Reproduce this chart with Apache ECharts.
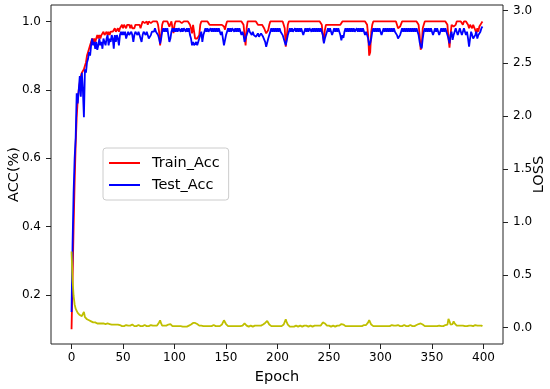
<!DOCTYPE html>
<html>
<head>
<meta charset="utf-8">
<script src="https://cdn.jsdelivr.net/npm/echarts@6/dist/echarts.min.js"></script>
<style>html,body{margin:0;padding:0;background:#fff}#c{width:550px;height:389px}</style>
</head>
<body>
<div id="c"></div>
<script>
var trainAcc = [
0.10,0.25,0.40,0.53,0.64,0.72,0.77,0.80,0.82,0.84,0.85,0.85,0.86,0.87,0.88,0.90,0.91,0.92,0.93,0.94,
0.95,0.94,0.95,0.94,0.95,0.96,0.95,0.96,0.95,0.96,0.96,0.97,0.96,0.96,0.97,0.96,0.97,0.96,0.97,0.97,
0.97,0.97,0.98,0.97,0.97,0.98,0.97,0.98,0.98,0.99,0.98,0.99,0.99,0.98,0.99,0.99,0.99,0.98,0.99,0.98,
0.975,0.98,0.99,0.99,0.99,0.99,0.99,0.98,0.99,1.0,1.0,0.995,1.0,1.0,0.99,1.0,1.0,0.995,1.0,1.0,
1.0,1.0,0.995,1.0,0.99,0.97,0.93,0.96,0.99,1.0,1.0,1.0,1.0,1.0,0.995,0.985,0.99,1.0,0.98,0.966,
0.99,1.0,1.0,1.0,1.0,1.0,1.0,0.995,1.0,1.0,1.0,1.0,1.0,1.0,1.0,0.99,0.98,0.965,0.99,0.97,
0.95,0.946,0.95,0.95,0.96,0.99,1.0,1.0,1.0,1.0,1.0,1.0,1.0,1.0,0.99,0.99,0.99,0.99,0.99,0.99,
0.99,0.99,0.99,0.99,0.99,0.99,0.99,0.99,0.985,0.976,0.99,1.0,1.0,1.0,1.0,1.0,1.0,1.0,1.0,1.0,
1.0,1.0,1.0,1.0,1.0,1.0,1.0,0.99,0.96,0.93,0.98,1.0,1.0,1.0,1.0,1.0,1.0,1.0,1.0,1.0,
1.0,0.99,0.99,0.99,0.99,0.99,0.99,0.98,0.975,0.965,0.96,0.975,0.99,1.0,1.0,1.0,1.0,1.0,1.0,1.0,
1.0,1.0,1.0,1.0,1.0,1.0,0.99,0.98,0.926,0.957,0.99,1.0,1.0,1.0,1.0,1.0,1.0,1.0,1.0,1.0,
1.0,1.0,1.0,1.0,1.0,1.0,1.0,1.0,1.0,1.0,1.0,1.0,1.0,1.0,1.0,1.0,1.0,1.0,1.0,1.0,
1.0,1.0,1.0,0.99,0.96,0.94,0.975,0.99,0.99,0.99,0.99,0.99,0.99,0.99,0.99,0.99,0.99,0.99,0.99,0.99,
0.99,0.99,0.995,1.0,1.0,1.0,1.0,1.0,1.0,1.0,1.0,1.0,1.0,1.0,1.0,1.0,1.0,1.0,1.0,1.0,
1.0,1.0,1.0,1.0,1.0,1.0,1.0,0.99,0.96,0.90,0.91,0.97,0.99,1.0,1.0,1.0,1.0,1.0,1.0,1.0,
1.0,1.0,1.0,1.0,1.0,1.0,1.0,1.0,1.0,1.0,1.0,1.0,1.0,1.0,1.0,1.0,0.99,0.98,0.976,0.985,
0.99,1.0,1.0,1.0,1.0,1.0,1.0,1.0,1.0,1.0,1.0,1.0,1.0,1.0,1.0,1.0,1.0,0.99,0.96,0.917,
0.93,0.98,0.99,1.0,1.0,1.0,1.0,1.0,1.0,1.0,1.0,1.0,1.0,1.0,1.0,1.0,1.0,1.0,1.0,1.0,
1.0,1.0,1.0,1.0,1.0,0.99,0.95,0.923,0.96,0.99,0.99,0.985,0.99,0.99,1.0,1.0,1.0,0.995,1.0,1.0,
0.99,1.0,0.995,1.0,1.0,0.99,0.98,0.99,0.995,0.98,0.99,0.985,0.975,0.965,0.98,0.97,0.985,0.99,0.995,1.0
];
var testAcc = [
0.15,0.35,0.50,0.60,0.66,0.79,0.76,0.80,0.84,0.78,0.85,0.80,0.72,0.86,0.85,0.88,0.89,0.91,0.90,0.93,
0.95,0.93,0.94,0.92,0.94,0.917,0.93,0.95,0.93,0.94,0.92,0.95,0.94,0.93,0.95,0.96,0.93,0.95,0.94,0.96,
0.95,0.92,0.96,0.94,0.96,0.95,0.93,0.96,0.97,0.96,0.97,0.96,0.97,0.95,0.96,0.97,0.96,0.955,0.97,0.96,
0.94,0.96,0.97,0.97,0.96,0.97,0.96,0.95,0.94,0.96,0.97,0.97,0.96,0.97,0.96,0.95,0.95,0.96,0.97,0.97,
0.97,0.98,0.97,0.97,0.96,0.95,0.935,0.95,0.97,0.98,0.97,0.98,0.97,0.98,0.96,0.94,0.95,0.97,0.98,0.97,
0.98,0.97,0.98,0.97,0.98,0.98,0.97,0.98,0.97,0.98,0.98,0.97,0.98,0.97,0.98,0.96,0.95,0.93,0.94,0.93,
0.93,0.94,0.93,0.94,0.95,0.96,0.97,0.94,0.96,0.97,0.98,0.97,0.98,0.97,0.97,0.98,0.97,0.98,0.97,0.98,
0.97,0.98,0.97,0.98,0.97,0.96,0.97,0.95,0.93,0.935,0.96,0.97,0.98,0.97,0.98,0.97,0.98,0.98,0.97,0.98,
0.97,0.98,0.97,0.98,0.97,0.96,0.97,0.96,0.94,0.945,0.96,0.97,0.98,0.97,0.97,0.96,0.97,0.96,0.965,0.955,
0.96,0.965,0.955,0.96,0.965,0.96,0.955,0.95,0.94,0.926,0.93,0.95,0.96,0.97,0.98,0.97,0.98,0.97,0.98,0.97,
0.98,0.97,0.98,0.97,0.97,0.96,0.95,0.94,0.93,0.935,0.96,0.97,0.98,0.97,0.98,0.97,0.97,0.98,0.97,0.98,
0.97,0.98,0.97,0.98,0.97,0.96,0.97,0.98,0.97,0.98,0.97,0.98,0.98,0.97,0.98,0.97,0.98,0.97,0.98,0.97,
0.98,0.97,0.98,0.97,0.96,0.936,0.95,0.96,0.97,0.98,0.97,0.98,0.97,0.96,0.97,0.98,0.97,0.98,0.97,0.98,
0.97,0.96,0.945,0.96,0.952,0.97,0.98,0.97,0.98,0.97,0.98,0.97,0.98,0.97,0.98,0.97,0.97,0.98,0.97,0.98,
0.97,0.98,0.97,0.98,0.97,0.96,0.97,0.96,0.95,0.93,0.937,0.95,0.97,0.98,0.97,0.98,0.97,0.98,0.97,0.98,
0.97,0.96,0.97,0.98,0.97,0.98,0.97,0.98,0.97,0.98,0.97,0.98,0.97,0.98,0.97,0.97,0.96,0.95,0.95,0.96,
0.97,0.98,0.97,0.98,0.97,0.98,0.97,0.98,0.97,0.98,0.97,0.98,0.97,0.98,0.97,0.98,0.97,0.96,0.94,0.927,
0.921,0.95,0.97,0.98,0.97,0.98,0.97,0.98,0.97,0.98,0.97,0.96,0.97,0.98,0.97,0.98,0.97,0.96,0.97,0.98,
0.97,0.98,0.97,0.98,0.97,0.96,0.95,0.936,0.96,0.97,0.946,0.96,0.97,0.98,0.97,0.96,0.97,0.98,0.97,0.96,
0.97,0.98,0.97,0.96,0.97,0.95,0.926,0.95,0.97,0.96,0.95,0.946,0.96,0.97,0.95,0.96,0.96,0.97,0.98,0.985
];
var loss = [
0.72,0.45,0.30,0.22,0.18,0.16,0.14,0.15,0.12,0.13,0.11,0.12,0.15,0.10,0.09,0.08,0.08,0.07,0.07,0.06,
0.06,0.05,0.055,0.05,0.045,0.04,0.045,0.04,0.035,0.04,0.035,0.04,0.03,0.035,0.03,0.04,0.03,0.035,0.03,0.03,
0.035,0.03,0.025,0.03,0.025,0.03,0.02,0.025,0.02,0.015,0.02,0.015,0.02,0.025,0.015,0.02,0.015,0.02,0.025,0.03,
0.02,0.015,0.02,0.015,0.02,0.025,0.02,0.015,0.02,0.015,0.02,0.025,0.02,0.015,0.02,0.015,0.02,0.025,0.02,0.02,
0.015,0.02,0.015,0.02,0.03,0.05,0.07,0.04,0.02,0.015,0.02,0.015,0.02,0.015,0.03,0.045,0.035,0.02,0.015,0.02,
0.015,0.01,0.015,0.01,0.015,0.01,0.015,0.02,0.01,0.015,0.01,0.015,0.01,0.015,0.02,0.025,0.03,0.04,0.045,0.03,
0.045,0.03,0.035,0.025,0.02,0.015,0.02,0.025,0.015,0.01,0.015,0.01,0.015,0.02,0.015,0.02,0.015,0.02,0.025,0.02,
0.015,0.02,0.015,0.02,0.015,0.025,0.03,0.05,0.07,0.06,0.035,0.02,0.015,0.01,0.015,0.01,0.015,0.02,0.015,0.01,
0.015,0.01,0.015,0.02,0.015,0.025,0.02,0.03,0.04,0.035,0.02,0.015,0.01,0.015,0.02,0.015,0.01,0.015,0.02,0.025,
0.02,0.025,0.02,0.025,0.02,0.025,0.03,0.035,0.045,0.06,0.064,0.05,0.03,0.02,0.015,0.01,0.015,0.01,0.015,0.02,
0.015,0.01,0.015,0.02,0.015,0.02,0.03,0.04,0.08,0.05,0.03,0.015,0.01,0.005,0.01,0.015,0.01,0.015,0.02,0.015,
0.01,0.015,0.02,0.015,0.01,0.015,0.02,0.015,0.02,0.015,0.01,0.015,0.02,0.015,0.01,0.015,0.02,0.025,0.02,0.015,
0.02,0.015,0.02,0.03,0.05,0.064,0.04,0.025,0.02,0.015,0.02,0.015,0.01,0.015,0.02,0.015,0.01,0.015,0.02,0.015,
0.02,0.03,0.035,0.025,0.03,0.02,0.015,0.01,0.015,0.01,0.015,0.02,0.015,0.01,0.015,0.02,0.015,0.01,0.015,0.02,
0.015,0.02,0.015,0.02,0.025,0.02,0.025,0.035,0.05,0.073,0.05,0.03,0.02,0.015,0.01,0.015,0.02,0.015,0.01,0.015,
0.01,0.015,0.02,0.015,0.01,0.015,0.01,0.015,0.02,0.015,0.02,0.025,0.015,0.02,0.025,0.02,0.03,0.025,0.02,0.015,
0.02,0.015,0.02,0.025,0.02,0.015,0.02,0.015,0.02,0.025,0.02,0.015,0.02,0.015,0.02,0.025,0.03,0.035,0.04,0.04,
0.035,0.03,0.02,0.015,0.01,0.015,0.01,0.015,0.01,0.015,0.02,0.015,0.01,0.015,0.02,0.015,0.01,0.02,0.025,0.015,
0.02,0.015,0.02,0.025,0.02,0.03,0.083,0.06,0.03,0.025,0.035,0.06,0.04,0.025,0.02,0.015,0.02,0.025,0.02,0.015,
0.02,0.025,0.015,0.02,0.015,0.025,0.02,0.015,0.02,0.025,0.015,0.02,0.025,0.015,0.02,0.015,0.02,0.015,0.02,0.015
];
var xTicks = [0,50,100,150,200,250,300,350,400];
var accTicks = [0.2,0.4,0.6,0.8,1.0];
var lossTicks = [0.0,0.5,1.0,1.5,2.0,2.5,3.0];

var FONT = 'DejaVu Sans';
function pairs(arr){ return arr.map(function(v,i){ return [i, v]; }); }

var chart = echarts.init(document.getElementById('c'), null, {renderer:'canvas'});
var tickStyle = {show:true, inside:false, length:5, lineStyle:{color:'#222', width:1}};
var labelStyle = {color:'#000', fontSize:12, fontFamily:FONT};
var noLine = {show:false, onZero:false};
chart.setOption({
  animation:false,
  backgroundColor:'#fff',
  grid:{left:51, right:47, top:5, bottom:45, show:true, borderColor:'#222', borderWidth:1,
        backgroundColor:'transparent', containLabel:false, outerBoundsMode:'none'},
  legend:{
    data:['Train_Acc','Test_Acc'], orient:'vertical', left:103, top:148,
    padding:[7,9,7,6], itemGap:6, itemWidth:31, itemHeight:2, icon:'rect',
    borderColor:'#cccccc', borderWidth:1, borderRadius:3, backgroundColor:'rgba(255,255,255,0.8)',
    textStyle:{fontSize:14.5, fontFamily:FONT, color:'#000', lineHeight:16, padding:[0,0,0,7]}
  },
  xAxis:{
    type:'value', min:-19.95, max:418.95,
    name:'Epoch', nameLocation:'middle', nameGap:26, nameMoveOverlap:false,
    nameTextStyle:{fontSize:14.5, fontFamily:FONT, color:'#000'},
    axisLine:noLine, splitLine:{show:false},
    axisTick:Object.assign({customValues:xTicks}, tickStyle),
    axisLabel:Object.assign({customValues:xTicks, margin:8, formatter:function(v){return String(v);}}, labelStyle)
  },
  yAxis:[{
    type:'value', min:0.0566, max:1.048, position:'left',
    name:'ACC(%)', nameLocation:'middle', nameGap:29, nameRotate:90, nameMoveOverlap:false,
    nameTextStyle:{fontSize:14.5, fontFamily:FONT, color:'#000'},
    axisLine:noLine, splitLine:{show:false},
    axisTick:Object.assign({customValues:accTicks}, tickStyle),
    axisLabel:Object.assign({customValues:accTicks, margin:10, formatter:function(v){return v.toFixed(1);}}, labelStyle)
  },{
    type:'value', min:-0.154, max:3.051, position:'right',
    name:'LOSS', nameLocation:'middle', nameGap:29, nameRotate:90, nameMoveOverlap:false,
    nameTextStyle:{fontSize:14.5, fontFamily:FONT, color:'#000'},
    axisLine:noLine, splitLine:{show:false},
    axisTick:Object.assign({customValues:lossTicks}, tickStyle),
    axisLabel:Object.assign({customValues:lossTicks, margin:10, formatter:function(v){return v.toFixed(1);}}, labelStyle)
  }],
  series:[
    {name:'Train_Acc', type:'line', yAxisIndex:0, data:pairs(trainAcc), showSymbol:false, symbol:'none',
     lineStyle:{color:'#ff0000', width:1.8}, itemStyle:{color:'#ff0000'}, sampling:'none'},
    {name:'Test_Acc', type:'line', yAxisIndex:0, data:pairs(testAcc), showSymbol:false, symbol:'none',
     lineStyle:{color:'#0000ff', width:1.8}, itemStyle:{color:'#0000ff'}, sampling:'none'},
    {name:'LOSS', type:'line', yAxisIndex:1, data:pairs(loss), showSymbol:false, symbol:'none',
     lineStyle:{color:'#bfbf00', width:1.8}, itemStyle:{color:'#bfbf00'}, sampling:'none'}
  ]
});
</script>
</body>
</html>
